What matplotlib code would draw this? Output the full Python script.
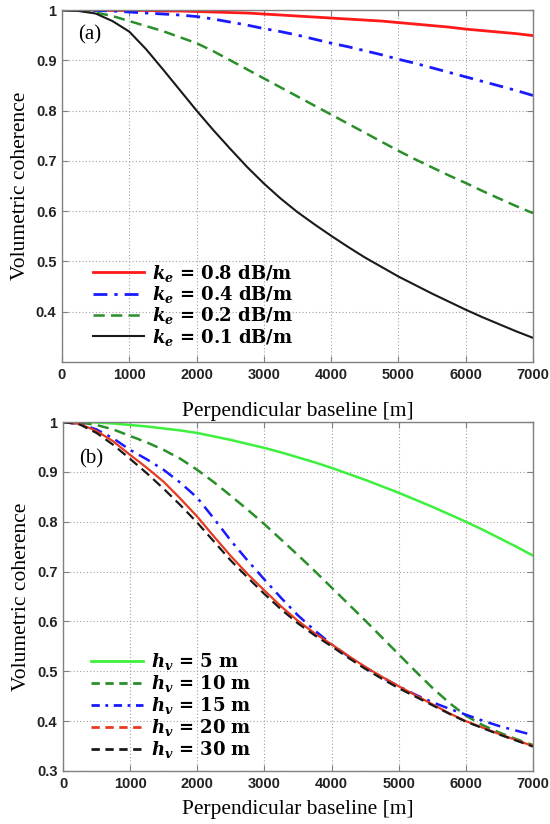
import matplotlib
matplotlib.use("Agg")
import matplotlib.pyplot as plt
from matplotlib.lines import Line2D
from matplotlib.ticker import FuncFormatter

# Perpendicular baseline samples [m]
baseline = list(range(0, 7001, 250))

# (a) coherence for different extinction coefficients
ke_labels = ["0.8", "0.4", "0.2", "0.1"]
coh_ke08 = [1.000, 1.000, 1.000, 0.999, 0.999, 0.999, 0.998, 0.998, 0.997, 0.996,
            0.995, 0.994, 0.992, 0.990, 0.988, 0.986, 0.984, 0.982, 0.980, 0.978,
            0.975, 0.972, 0.969, 0.966, 0.962, 0.959, 0.956, 0.953, 0.949]
coh_ke04 = [1.000, 1.000, 0.999, 0.998, 0.996, 0.994, 0.992, 0.990, 0.987, 0.982,
            0.976, 0.970, 0.963, 0.957, 0.950, 0.942, 0.934, 0.927, 0.919, 0.911,
            0.902, 0.894, 0.885, 0.876, 0.867, 0.858, 0.849, 0.840, 0.830]
coh_ke02 = [1.000, 0.999, 0.995, 0.988, 0.978, 0.968, 0.958, 0.946, 0.934, 0.918,
            0.900, 0.882, 0.864, 0.846, 0.828, 0.810, 0.792, 0.774, 0.756, 0.738,
            0.720, 0.703, 0.687, 0.671, 0.656, 0.640, 0.625, 0.610, 0.596]
coh_ke01 = [1.000, 0.998, 0.993, 0.978, 0.957, 0.922, 0.882, 0.841, 0.800, 0.761,
            0.724, 0.688, 0.655, 0.625, 0.598, 0.574, 0.551, 0.529, 0.508, 0.489,
            0.470, 0.453, 0.436, 0.420, 0.404, 0.389, 0.375, 0.361, 0.348]

# (b) coherence for different vegetation heights
hv_labels = ["5", "10", "15", "20", "30"]
coh_hv05 = [1.000, 1.000, 0.999, 0.997, 0.994, 0.991, 0.987, 0.983, 0.978, 0.971,
            0.964, 0.956, 0.948, 0.939, 0.929, 0.919, 0.908, 0.896, 0.884, 0.871,
            0.858, 0.844, 0.830, 0.815, 0.800, 0.784, 0.767, 0.750, 0.732]
coh_hv10 = [1.000, 0.999, 0.994, 0.985, 0.972, 0.959, 0.944, 0.926, 0.904, 0.879,
            0.852, 0.824, 0.795, 0.764, 0.733, 0.701, 0.668, 0.635, 0.602, 0.568,
            0.534, 0.500, 0.467, 0.437, 0.411, 0.392, 0.377, 0.364, 0.352]
coh_hv15 = [1.000, 0.996, 0.985, 0.967, 0.944, 0.925, 0.904, 0.878, 0.848, 0.806,
            0.762, 0.722, 0.684, 0.647, 0.612, 0.582, 0.554, 0.530, 0.508, 0.488,
            0.470, 0.453, 0.438, 0.425, 0.413, 0.401, 0.390, 0.381, 0.372]
coh_hv20 = [1.000, 0.996, 0.982, 0.961, 0.934, 0.908, 0.880, 0.846, 0.810, 0.770,
            0.731, 0.695, 0.662, 0.630, 0.601, 0.576, 0.554, 0.531, 0.509, 0.489,
            0.470, 0.452, 0.434, 0.416, 0.400, 0.387, 0.374, 0.362, 0.350]
coh_hv30 = [1.000, 0.995, 0.978, 0.954, 0.926, 0.897, 0.866, 0.833, 0.798, 0.760,
            0.722, 0.688, 0.655, 0.624, 0.596, 0.572, 0.550, 0.527, 0.505, 0.485,
            0.466, 0.449, 0.432, 0.415, 0.399, 0.386, 0.373, 0.361, 0.349]

plt.rcParams["mathtext.fontset"] = "custom"
plt.rcParams["mathtext.rm"] = "DejaVu Serif:bold"
plt.rcParams["mathtext.it"] = "DejaVu Serif:italic:bold"
plt.rcParams["mathtext.bf"] = "DejaVu Serif:bold"

fig = plt.figure(figsize=(5.5, 8.24), dpi=100)
ax_a = fig.add_axes([62 / 550, 1 - 362 / 824, (533 - 62) / 550, (362 - 10) / 824])
ax_b = fig.add_axes([63 / 550, 1 - 771 / 824, (533 - 63) / 550, (771 - 422) / 824])

spine_col = "#808080"
label_font = dict(family="Liberation Serif", size=15.5)


def style_axes(ax, yticks, xpad):
    ax.set_xlim(0, 7000)
    ax.set_ylim(0.3, 1.0)
    ax.set_xticks(range(0, 7001, 1000))
    ax.set_yticks(yticks)
    ax.yaxis.set_major_formatter(FuncFormatter(lambda v, p: "%g" % round(v, 2)))
    ax.grid(True, linestyle=(0, (1, 2)), color="#a0a0a0", linewidth=0.8)
    ax.tick_params(direction="in", top=True, right=True, length=4,
                   color=spine_col, width=0.8, pad=4)
    for lbl in ax.get_xticklabels() + ax.get_yticklabels():
        lbl.set_fontfamily("Liberation Sans")
        lbl.set_fontweight("bold")
        lbl.set_fontsize(10.5)
        lbl.set_color("#222222")
    for s in ax.spines.values():
        s.set_color(spine_col)
        s.set_linewidth(1.0)
    ax.set_xlabel("Perpendicular baseline [m]", fontdict=label_font, labelpad=xpad)
    ax.set_ylabel("Volumetric coherence", fontdict=label_font, labelpad=4)


def legend_label(sym, value, unit):
    return r"$%s$ = %s %s" % (sym, value, unit)


legend_kw = dict(loc="lower left", frameon=False, handletextpad=0.45,
                 borderaxespad=0, prop=dict(family="DejaVu Serif",
                                            weight="bold", size=13))

# Panel (a)
series_a = [coh_ke08, coh_ke04, coh_ke02, coh_ke01]
styles_a = [
    dict(color="#ff1a1a", linestyle="-", linewidth=2.0),
    dict(color="#1a1aff", linestyle=(0, (5, 2.5, 1.2, 2.5)), linewidth=2.0),
    dict(color="#2a8f2a", linestyle=(0, (4.5, 2.5)), linewidth=1.8),
    dict(color="#1a1a1a", linestyle="-", linewidth=1.5),
]
for vals, st, k in zip(series_a, styles_a, ke_labels):
    ax_a.plot(baseline, vals, label=legend_label("k_e", k, "dB/m"), **st)
style_axes(ax_a, [0.4, 0.5, 0.6, 0.7, 0.8, 0.9, 1.0], xpad=15)
ax_a.text(0.035, 0.915, "(a)", transform=ax_a.transAxes,
          fontfamily="Liberation Serif", fontsize=15)
ax_a.legend(bbox_to_anchor=(0.05, 0.02), handlelength=2.85, labelspacing=0.02,
            **legend_kw)

# Panel (b)
series_b = [coh_hv05, coh_hv10, coh_hv15, coh_hv20, coh_hv30]
styles_b = [
    dict(color="#3df03d", linestyle="-", linewidth=1.8),
    dict(color="#2a8f2a", linestyle=(0, (4.5, 2.5)), linewidth=1.8),
    dict(color="#1a1aff", linestyle=(0, (5, 2.5, 1.2, 2.5)), linewidth=1.8),
    dict(color="#e83a20", linestyle="-", linewidth=1.6),
    dict(color="#1a1a1a", linestyle=(0, (4.5, 2.5)), linewidth=1.6),
]
for vals, st in zip(series_b, styles_b):
    ax_b.plot(baseline, vals, **st)
style_axes(ax_b, [0.3, 0.4, 0.5, 0.6, 0.7, 0.8, 0.9, 1.0], xpad=7)
ax_b.text(0.035, 0.88, "(b)", transform=ax_b.transAxes,
          fontfamily="Liberation Serif", fontsize=15)

legend_styles_b = [
    dict(color="#3df03d", linestyle="-", linewidth=2.0),
    dict(color="#2a8f2a", linestyle=(0, (3, 2)), linewidth=2.0),
    dict(color="#1a1aff", linestyle=(0, (3, 2, 1, 2)), linewidth=2.0),
    dict(color="#e83a20", linestyle=(0, (3, 2)), linewidth=2.0),
    dict(color="#1a1a1a", linestyle=(0, (3, 2)), linewidth=2.0),
]
handles_b = [Line2D([], [], **st) for st in legend_styles_b]
labels_b = [legend_label("h_v", h, "m") for h in hv_labels]
ax_b.legend(handles_b, labels_b, bbox_to_anchor=(0.045, 0.01),
            handlelength=2.85, labelspacing=0.06, **legend_kw)

fig.savefig("out.png", dpi=100)
